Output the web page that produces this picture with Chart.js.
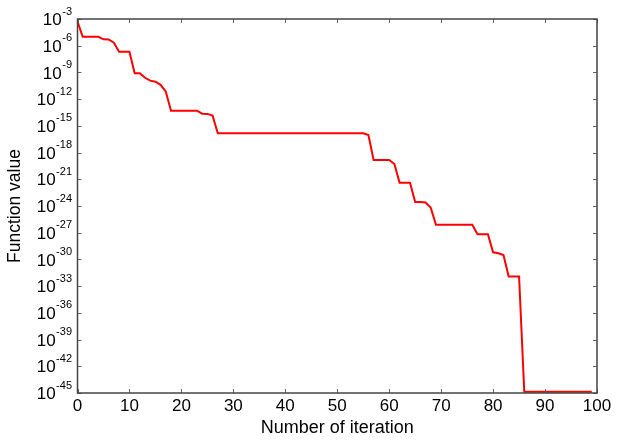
<!DOCTYPE html>
<html>
<head>
<meta charset="utf-8">
<script src="https://cdn.jsdelivr.net/npm/chart.js@4"></script>
<style>
  html, body { margin: 0; padding: 0; background: #fff; }
  #wrap { width: 621px; height: 443px; }
</style>
</head>
<body>
<div id="wrap"><canvas id="myChart" width="621" height="443"></canvas></div>
<script>
// iteration index (x)
const iterations = [
  0, 1, 2, 3, 4, 5, 6, 7, 8, 9, 10, 11, 12, 13, 14, 15, 16, 17, 18, 19,
  20, 21, 22, 23, 24, 25, 26, 27, 28, 29, 30, 31, 32, 33, 34, 35, 36, 37, 38, 39,
  40, 41, 42, 43, 44, 45, 46, 47, 48, 49, 50, 51, 52, 53, 54, 55, 56, 57, 58, 59,
  60, 61, 62, 63, 64, 65, 66, 67, 68, 69, 70, 71, 72, 73, 74, 75, 76, 77, 78, 79,
  80, 81, 82, 83, 84, 85, 86, 87, 88, 89, 90, 91, 92, 93, 94, 95, 96, 97, 98, 99
];

// best function value per iteration
const functionValues = [
  5e-4, 1e-5, 1e-5, 1e-5, 1e-5, 5.2e-6, 5e-6, 2.2e-6, 2.1e-7, 2.1e-7,
  2.1e-7, 8e-10, 8e-10, 2.5e-10, 1.2e-10, 9e-11, 4e-11, 7e-12, 5e-14, 5e-14,
  5e-14, 5e-14, 5e-14, 5e-14, 2.3e-14, 2.2e-14, 1.4e-14, 1.45e-16, 1.45e-16, 1.45e-16,
  1.45e-16, 1.45e-16, 1.45e-16, 1.45e-16, 1.45e-16, 1.45e-16, 1.45e-16, 1.45e-16, 1.45e-16, 1.45e-16,
  1.45e-16, 1.45e-16, 1.45e-16, 1.45e-16, 1.45e-16, 1.45e-16, 1.45e-16, 1.45e-16, 1.45e-16, 1.45e-16,
  1.45e-16, 1.45e-16, 1.45e-16, 1.45e-16, 1.45e-16, 1.45e-16, 9.3e-17, 1.5e-19, 1.5e-19, 1.5e-19,
  1.5e-19, 5.2e-20, 4.2e-22, 4.2e-22, 4.2e-22, 2.8e-24, 2.8e-24, 2.5e-24, 6.5e-25, 8e-27,
  8e-27, 8e-27, 8e-27, 8e-27, 8e-27, 8e-27, 8e-27, 6.6e-28, 6.6e-28, 6.6e-28,
  6.3e-30, 5e-30, 3.2e-30, 1.2e-32, 1.2e-32, 1.2e-32, 1.35e-45, 1.35e-45, 1.35e-45, 1.35e-45,
  1.35e-45, 1.35e-45, 1.35e-45, 1.35e-45, 1.35e-45, 1.35e-45, 1.35e-45, 1.35e-45, 1.35e-45, 1.35e-45
];

// y axis tick exponents (10^e)
const yTickExponents = [-3, -6, -9, -12, -15, -18, -21, -24, -27, -30, -33, -36, -39, -42, -45];

const FONT = '"Liberation Sans", Arial, sans-serif';

// box, inward ticks on all four sides and 10^e labels
const framePlugin = {
  id: 'frame',
  afterDraw(chart) {
    const { ctx, chartArea: a, scales } = chart;
    const tl = 4;
    ctx.save();

    // tick marks
    ctx.strokeStyle = '#666';
    ctx.lineWidth = 1;
    ctx.beginPath();
    scales.x.ticks.forEach(t => {
      const px = Math.round(scales.x.getPixelForValue(t.value)) + 0.5;
      ctx.moveTo(px, a.bottom); ctx.lineTo(px, a.bottom - tl);
      ctx.moveTo(px, a.top); ctx.lineTo(px, a.top + tl);
    });
    scales.y.ticks.forEach(t => {
      const py = Math.round(scales.y.getPixelForValue(t.value)) + 0.5;
      ctx.moveTo(a.left, py); ctx.lineTo(a.left + tl, py);
      ctx.moveTo(a.right, py); ctx.lineTo(a.right - tl, py);
    });
    ctx.stroke();

    // box
    ctx.strokeStyle = '#444';
    ctx.lineWidth = 1.5;
    ctx.strokeRect(a.left, a.top, a.right - a.left, a.bottom - a.top);

    // y labels with superscript exponent
    ctx.fillStyle = '#000';
    const rightEdge = a.left - 5.5;
    yTickExponents.forEach(e => {
      const py = scales.y.getPixelForValue(Math.pow(10, e));
      const sup = String(e);
      ctx.font = '11px ' + FONT;
      const supW = ctx.measureText(sup).width;
      ctx.textAlign = 'left';
      ctx.textBaseline = 'middle';
      ctx.fillText(sup, rightEdge - supW, py - 7.5);
      ctx.font = '17px ' + FONT;
      ctx.textAlign = 'right';
      ctx.fillText('10', rightEdge - supW - 0.5, py + 1.5);
    });
    ctx.restore();
  }
};

const ctx = document.getElementById('myChart').getContext('2d');
const myChart = new Chart(ctx, {
  type: 'line',
  data: {
    datasets: [{
      data: iterations.map((x, i) => ({ x: x, y: functionValues[i] })),
      borderColor: '#ff0000',
      borderWidth: 2,
      pointRadius: 0,
      tension: 0,
      fill: false
    }]
  },
  options: {
    responsive: false,
    animation: false,
    layout: { padding: { top: 19, right: 24, left: 0, bottom: 0 } },
    plugins: {
      legend: { display: false },
      tooltip: { enabled: false }
    },
    scales: {
      x: {
        type: 'linear',
        min: 0,
        max: 100,
        ticks: {
          stepSize: 10,
          color: '#000',
          font: { family: FONT, size: 17 },
          padding: 3,
          maxRotation: 0
        },
        grid: { display: false, drawTicks: false },
        border: { display: false },
        title: {
          display: true,
          text: 'Number of iteration',
          color: '#000',
          font: { family: FONT, size: 18 },
          padding: { top: 0, bottom: 4 }
        },
        afterFit: s => { s.height = 50; }
      },
      y: {
        type: 'logarithmic',
        min: 1e-45,
        max: 1e-3,
        afterBuildTicks: s => {
          s.ticks = yTickExponents.map(e => ({ value: Math.pow(10, e) }));
        },
        ticks: { display: false },
        grid: { display: false, drawTicks: false },
        border: { display: false },
        title: {
          display: true,
          text: 'Function value',
          color: '#000',
          font: { family: FONT, size: 17.5 },
          padding: { top: 5, bottom: 0 }
        },
        afterFit: s => { s.width = 77.5; }
      }
    }
  },
  plugins: [framePlugin]
});
</script>
</body>
</html>
